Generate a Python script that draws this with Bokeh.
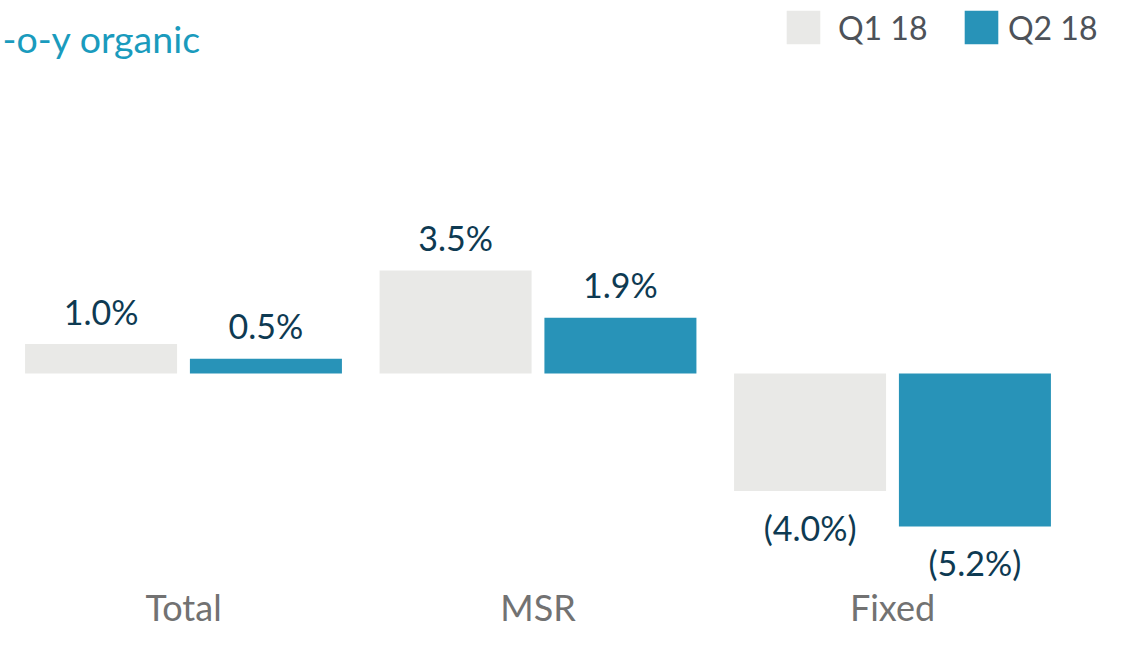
from bokeh.plotting import figure
from bokeh.models import Range1d, ColumnDataSource, Legend, LegendItem, Label
from bokeh.core.properties import value
from bokeh.embed import file_html
from bokeh.resources import INLINE

# ---- data ----
categories = ["Total", "MSR", "Fixed"]
series_names = ["Q1 18", "Q2 18"]
q1_values = [1.0, 3.5, -4.0]
q2_values = [0.5, 1.9, -5.2]
title_text = "-o-y organic"

# ---- style ----
FONT = "Lato"
Q1_COLOR = "#E9E9E7"
Q2_COLOR = "#2893B8"
LABEL_COLOR = "#0E3A52"
CAT_COLOR = "#727272"
TITLE_COLOR = "#1A9BBD"
LEGEND_TEXT = "#4D5259"

W, H = 1110, 633
PX_PER_UNIT_X = 354.5
PX_PER_PCT = 29.4
ZERO_PX = 373.0  # zero line from top of figure
FIRST_CENTER_PX = 183.0

x_start = -FIRST_CENTER_PX / PX_PER_UNIT_X
x_end = x_start + W / PX_PER_UNIT_X
y_end = ZERO_PX / PX_PER_PCT
y_start = -(H - ZERO_PX) / PX_PER_PCT

p = figure(width=W, height=H, output_backend="svg", toolbar_location=None,
           x_range=Range1d(x_start, x_end), y_range=Range1d(y_start, y_end),
           min_border=0, min_border_left=0, min_border_right=0,
           min_border_top=0, min_border_bottom=0)
p.axis.visible = False
p.grid.visible = False
p.outline_line_color = None
p.background_fill_color = "white"
p.border_fill_color = "white"

idx = list(range(len(categories)))
offset = 0.2325
bar_w = 0.4288

def fmt(v):
    return f"{v:.1f}%" if v >= 0 else f"({abs(v):.1f}%)"

def label_y(v):
    return v + 33 / PX_PER_PCT if v >= 0 else v - 36 / PX_PER_PCT

renderers = []
for vals, sign, color in [(q1_values, -1, Q1_COLOR), (q2_values, 1, Q2_COLOR)]:
    xs = [i + sign * offset for i in idx]
    src = ColumnDataSource(dict(
        x=xs, top=[max(v, 0) for v in vals], bottom=[min(v, 0) for v in vals],
        ly=[label_y(v) for v in vals], txt=[fmt(v) for v in vals]))
    r = p.vbar(x="x", top="top", bottom="bottom", width=bar_w, source=src,
               fill_color=color, line_color=None)
    renderers.append(r)
    p.text(x="x", y="ly", text="txt", source=src, text_align="center",
           text_baseline="middle", text_font=value(FONT), text_font_size="34px",
           text_color=LABEL_COLOR)

# category labels
cat_y = (ZERO_PX - 606) / PX_PER_PCT
p.text(x=idx, y=[cat_y] * len(idx), text=categories, text_align="center",
       text_baseline="middle", text_font=value(FONT), text_font_size="36px",
       text_color=CAT_COLOR)

# title
p.add_layout(Label(x=2, y=H - 38, x_units="screen", y_units="screen",
                   text=title_text, text_font=FONT, text_font_size="37.5px",
                   text_color=TITLE_COLOR, text_baseline="middle", text_align="left"))

gw = 42
inset = gw * 0.1
common = dict(orientation="horizontal", glyph_width=gw, glyph_height=gw,
              padding=0, margin=0, border_line_color=None,
              background_fill_alpha=0, label_text_font=FONT,
              label_text_font_size="32px", label_text_color=LEGEND_TEXT,
              label_height=34)
legend1 = Legend(items=[LegendItem(label=series_names[0], renderers=[renderers[0]])],
                 location=(int(round(786 - inset)), int(round(H - 44 - inset))),
                 label_standoff=14, **common)
legend2 = Legend(items=[LegendItem(label=series_names[1], renderers=[renderers[1]])],
                 location=(int(round(964 - inset)), int(round(H - 44 - inset))),
                 label_standoff=6, **common)
p.add_layout(legend1)
p.add_layout(legend2)

open("out.html", "w").write(file_html(p, INLINE))
